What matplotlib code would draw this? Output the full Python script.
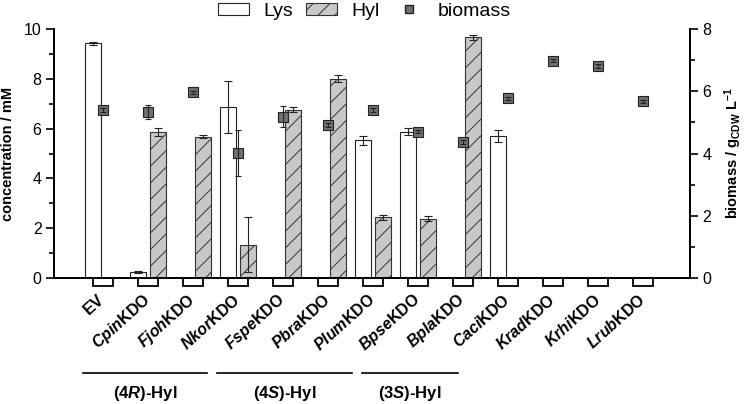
import numpy as np
import matplotlib
matplotlib.use("Agg")
import matplotlib.pyplot as plt
from matplotlib.patches import Patch
from matplotlib.lines import Line2D
from matplotlib.ticker import MultipleLocator
import matplotlib.transforms as mtransforms

plt.rcParams['font.family'] = ['Liberation Sans', 'DejaVu Sans']
plt.rcParams['mathtext.fontset'] = 'custom'
plt.rcParams['mathtext.rm'] = 'Liberation Sans'
plt.rcParams['mathtext.it'] = 'Liberation Sans:italic'
plt.rcParams['mathtext.bf'] = 'Liberation Sans:bold'
plt.rcParams['mathtext.bfit'] = 'Liberation Sans:bold:italic'
plt.rcParams['hatch.linewidth'] = 0.7

# ---------------- data ----------------
species = ['EV', 'Cpin', 'Fjoh', 'Nkor', 'Fspe', 'Pbra', 'Plum', 'Bpse',
           'Bpla', 'Caci', 'Krad', 'Krhi', 'Lrub']
nan = np.nan
lys = [9.44, 0.24, nan, 6.87, nan, nan, 5.53, 5.88, nan, 5.70, nan, nan, nan]
lys_err = [0.06, 0.03, 0, 1.03, 0, 0, 0.17, 0.15, 0, 0.25, 0, 0, 0]
hyl = [nan, 5.87, 5.68, 1.34, 6.75, 8.01, 2.43, 2.38, 9.67, nan, nan, nan, nan]
hyl_err = [0, 0.15, 0.05, 1.09, 0.10, 0.13, 0.10, 0.10, 0.10, 0, 0, 0, 0]
biomass = [5.40, 5.33, 5.97, 4.02, 5.19, 4.92, 5.40, 4.70, 4.36, 5.77, 6.99, 6.81, 5.68]
biomass_err = [0.05, 0.22, 0.05, 0.75, 0.35, 0.06, 0.05, 0.05, 0.06, 0.06, 0.06, 0.06, 0.05]
groups = ['(4$\\mathbfit{R}$)-Hyl', '(4$\\mathbfit{S}$)-Hyl', '(3$\\mathbfit{S}$)-Hyl']
group_span = [(-0.44, 2.31), (2.53, 5.53), (5.76, 7.89)]

tick_labels = ['$\\mathbf{EV}$'] + ['$\\mathbfit{%s}\\mathbf{KDO}$' % s for s in species[1:]]

# ---------------- figure ----------------
fig = plt.figure(figsize=(7.44, 4.04), dpi=100)
ax = fig.add_axes([0.0726, 0.312, 0.8548, 0.616])
ax2 = ax.twinx()

x = np.arange(len(species))
off = 0.22
w = 0.35

ax.bar(x - off, lys, w, color='white', edgecolor='#222222', linewidth=0.8, zorder=2)
ax.errorbar(x - off, lys, yerr=lys_err, fmt='none', ecolor='#222222',
            elinewidth=0.8, capsize=3, capthick=0.8, zorder=3)
ax.bar(x + off, hyl, w, color='#c8c8c8', edgecolor='#333333', hatch='//',
       linewidth=0.8, zorder=2)
ax.errorbar(x + off, hyl, yerr=hyl_err, fmt='none', ecolor='#222222',
            elinewidth=0.8, capsize=3, capthick=0.8, zorder=3)

ax2.plot(x, biomass, linestyle='none', marker='s', markersize=6.5,
         markerfacecolor='#707070', markeredgecolor='#222222',
         markeredgewidth=0.8, zorder=4)
ax2.errorbar(x, biomass, yerr=biomass_err, fmt='none', ecolor='#222222',
             elinewidth=0.8, capsize=2.5, capthick=0.8, zorder=5)

# box-shaped x ticks under the axis
ax.bar(x, -0.34, 0.44, bottom=0, fill=False, edgecolor='#111111',
       linewidth=1.4, clip_on=False, zorder=1)

ax.set_xlim(-1.09, 13.04)
ax.set_ylim(0, 10)
ax2.set_ylim(0, 8)

ax.set_xticks(x)
ax.set_xticklabels(tick_labels, rotation=42, ha='right', va='center',
                   rotation_mode='anchor', fontsize=11.5)
ax.tick_params(axis='x', length=0, pad=14)

ax.yaxis.set_major_locator(MultipleLocator(2))
ax.yaxis.set_minor_locator(MultipleLocator(1))
ax2.yaxis.set_major_locator(MultipleLocator(2))
ax2.yaxis.set_minor_locator(MultipleLocator(1))
for a in (ax, ax2):
    a.tick_params(axis='y', which='major', length=6, width=1.2, labelsize=11.5,
                  direction='out', pad=3)
    a.tick_params(axis='y', which='minor', length=3.5, width=1.2, direction='out')
    for sp in a.spines.values():
        sp.set_linewidth(1.3)
    a.spines['top'].set_visible(False)

ax.set_ylabel('concentration / mM', fontsize=10.5, fontweight='bold', labelpad=6)
ax2.set_ylabel('biomass / g$_{\\mathbf{CDW}}$ L$^{\\mathbf{-1}}$', fontsize=10.5,
               fontweight='bold', labelpad=8)

# group annotations
trans = mtransforms.blended_transform_factory(ax.transData, ax.transAxes)
for label, (x0, x1) in zip(groups, group_span):
    ax.add_line(Line2D([x0, x1], [-0.38, -0.38], transform=trans, color='black',
                       linewidth=1.2, clip_on=False))
    ax.text((x0 + x1) / 2, -0.465, label, transform=trans, ha='center', va='center',
            fontsize=12, fontweight='bold')

# legend
handles = [Patch(facecolor='white', edgecolor='#222222', linewidth=0.8),
           Patch(facecolor='#c8c8c8', edgecolor='#333333', hatch='//', linewidth=0.8),
           Line2D([], [], linestyle='none', marker='s', markersize=6,
                  markerfacecolor='#707070', markeredgecolor='#222222')]
fig.legend(handles, ['Lys', 'Hyl', 'biomass'], loc='center', ncol=3,
           bbox_to_anchor=(0.49, 0.972), frameon=False, fontsize=14,
           handlelength=1.6, handleheight=0.6, handletextpad=0.7,
           columnspacing=0.7, borderpad=0.1)

fig.savefig('out.png', dpi=100)
